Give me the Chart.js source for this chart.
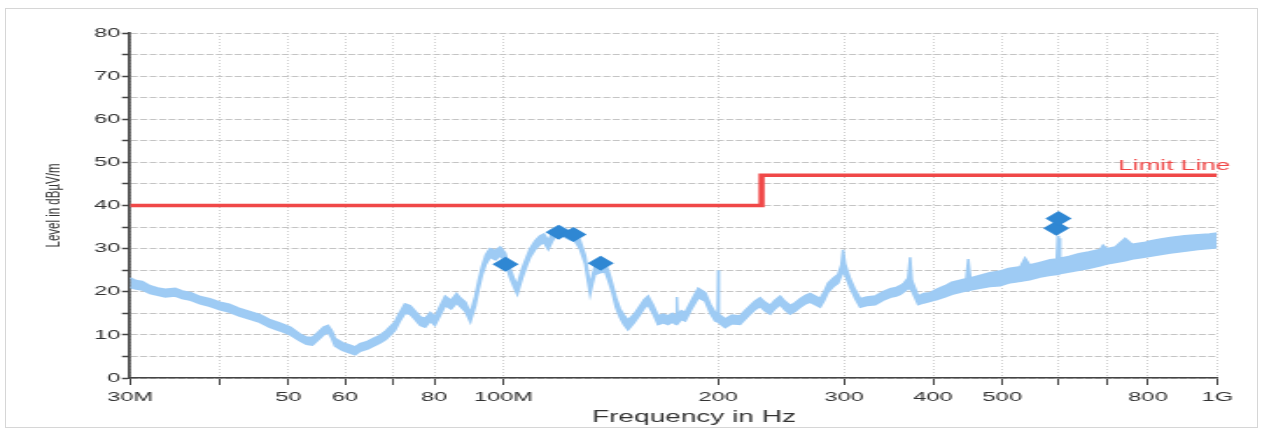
<!DOCTYPE html>
<html>
<head>
<meta charset="utf-8">
<script src="https://cdn.jsdelivr.net/npm/chart.js@4.4.1/dist/chart.umd.min.js"></script>
<style>
  body { margin: 0; background: #fff; }
  #frame { position: absolute; left: 5px; top: 8px; width: 1251px; height: 418px; border: 1px solid #d6d6d6; }
  #c { position: absolute; left: 0; top: 0; }
</style>
</head>
<body>
<div id="frame"></div>
<canvas id="c" width="721" height="429" style="width:1262px;height:429px"></canvas>
<script>
// Achsen
const xTickValues = [30, 40, 50, 60, 70, 80, 100, 200, 300, 400, 500, 600, 700, 800, 1000];
const xTickLabels = ['30M', '', '50', '60', '', '80', '100M', '200', '300', '400', '500', '', '', '800', '1G'];
const yMin = 0;
const yMax = 80;

// Messkurve (MHz, untere / obere Kante des Rauschbands in dBµV/m)
const traceFreq = [30.0, 30.6, 31.2, 32.0, 32.8, 33.6, 34.7, 35.5, 36.5, 37.6, 38.8, 40.1, 41.3, 42.6, 44.2, 45.6, 47.0, 48.7, 50.3, 51.9,
  53.0, 54.0, 55.0, 56.0, 56.8, 57.5, 58.1, 59.5, 61.0, 62.0, 63.0, 64.5, 66.0, 67.2, 68.5, 70.5, 71.5, 72.8, 74.0, 75.2,
  76.5, 77.7, 79.0, 80.2, 81.5, 82.9, 84.5, 86.0, 87.0, 88.5, 89.9, 91.3, 92.3, 93.4, 94.5, 95.8, 97.5, 99.0, 100.6, 102.2,
  103.5, 104.6, 105.5, 106.3, 107.8, 109.0, 110.8, 112.6, 114.0, 115.6, 117.0, 118.2, 120.0, 122.1, 124.0, 126.1, 128.0, 130.2, 131.2, 132.3,
  133.4, 134.4, 136.5, 138.9, 140.5, 142.0, 143.8, 145.7, 147.5, 149.5, 152.5, 155.5, 157.5, 159.5, 162.0, 164.7, 167.5, 170.1, 172.5, 174.6,
  175.0, 175.4, 177.5, 179.8, 183.5, 187.5, 191.8, 195.0, 198.0, 199.6, 200.0, 200.4, 204.5, 209.0, 214.6, 218.0, 221.7, 225.0, 228.9, 232.5,
  236.5, 240.0, 244.2, 248.0, 252.2, 256.0, 260.5, 265.0, 269.0, 273.5, 277.8, 281.5, 285.1, 290.0, 294.4, 297.5, 299.2, 301.0, 306.0, 311.0,
  316.2, 323.0, 331.8, 340.0, 348.3, 355.0, 359.7, 364.0, 369.0, 371.4, 373.5, 381.2, 388.0, 396.3, 405.0, 415.9, 425.0, 435.0, 445.0, 448.0,
  451.0, 465.0, 480.0, 496.6, 510.0, 530.0, 538.0, 546.0, 565.0, 583.6, 596.0, 598.0, 599.5, 600.8, 602.5, 620.0, 640.0, 660.0, 685.7, 692.0,
  700.0, 720.0, 743.0, 760.0, 790.0, 805.6, 830.0, 860.0, 900.0, 940.0, 975.0, 1000.0];
const traceLow = [21.0, 20.6, 20.4, 19.6, 19.2, 18.8, 19.0, 18.4, 18.0, 17.2, 16.6, 15.8, 15.3, 14.4, 13.6, 12.9, 11.8, 10.9, 10.0, 8.6,
  7.8, 7.6, 8.8, 10.0, 10.6, 9.2, 7.4, 6.4, 5.8, 5.4, 6.2, 6.7, 7.5, 8.1, 9.0, 11.0, 13.0, 15.0, 14.8, 13.6,
  12.2, 11.8, 13.2, 12.2, 14.4, 16.8, 16.0, 17.4, 16.6, 15.4, 13.0, 16.6, 20.4, 24.0, 26.4, 28.0, 27.4, 28.4, 27.0, 23.2,
  21.0, 19.4, 21.4, 23.2, 26.0, 28.0, 29.8, 31.0, 31.4, 29.8, 31.6, 32.8, 33.2, 32.6, 32.0, 31.6, 30.0, 26.4, 23.0, 19.4,
  22.0, 24.0, 24.4, 24.6, 22.4, 20.0, 16.4, 14.0, 12.4, 11.2, 12.8, 14.8, 16.2, 17.0, 15.0, 12.4, 12.8, 12.4, 13.0, 12.4,
  12.6, 12.6, 13.6, 13.2, 16.0, 18.6, 17.8, 15.0, 13.2, 13.0, 12.9, 12.8, 11.7, 12.6, 12.4, 13.6, 14.8, 15.8, 16.6, 15.6,
  14.8, 16.0, 17.0, 15.8, 14.8, 15.4, 16.4, 17.2, 17.6, 17.0, 16.4, 18.0, 20.0, 21.2, 22.0, 23.8, 24.5, 24.0, 21.0, 18.5,
  16.4, 16.8, 17.0, 18.0, 18.7, 19.0, 19.4, 20.0, 20.8, 20.6, 20.2, 17.0, 17.4, 17.8, 18.2, 18.8, 19.4, 19.8, 20.2, 20.2,
  20.4, 20.8, 21.2, 21.4, 22.0, 22.4, 22.6, 22.8, 23.4, 23.8, 24.0, 24.0, 24.2, 24.2, 24.2, 24.6, 25.0, 25.4, 26.0, 26.2,
  26.4, 26.8, 27.2, 27.6, 28.0, 28.2, 28.6, 29.0, 29.4, 29.8, 30.0, 30.2];
const traceHigh = [23.2, 22.6, 22.4, 21.4, 20.9, 20.6, 20.8, 20.2, 19.8, 18.9, 18.4, 17.6, 17.1, 16.2, 15.4, 14.7, 13.6, 12.7, 11.8, 10.2,
  9.5, 9.4, 10.6, 11.8, 12.2, 11.0, 9.2, 8.2, 7.6, 7.2, 8.0, 8.5, 9.3, 9.9, 11.0, 13.0, 15.0, 17.2, 16.8, 15.6,
  14.2, 13.8, 15.2, 14.2, 16.6, 19.0, 18.0, 19.6, 18.6, 17.6, 15.0, 18.8, 22.6, 26.0, 28.6, 30.0, 29.6, 30.4, 29.0, 25.4,
  23.0, 21.4, 23.6, 25.4, 28.0, 30.0, 31.8, 33.0, 33.4, 31.8, 33.6, 34.8, 35.2, 34.6, 34.0, 33.8, 32.0, 28.4, 25.0, 21.4,
  24.0, 26.0, 26.4, 26.8, 24.6, 22.0, 18.6, 16.0, 14.6, 13.4, 14.8, 16.8, 18.2, 19.0, 17.0, 14.4, 14.8, 14.4, 15.0, 14.4,
  18.8, 14.6, 15.6, 15.2, 18.0, 20.8, 19.8, 17.0, 15.2, 15.0, 25.0, 14.8, 13.7, 14.6, 14.4, 15.6, 16.8, 17.8, 18.6, 17.6,
  16.8, 18.0, 19.0, 17.8, 16.8, 17.4, 18.4, 19.2, 19.6, 19.0, 18.4, 20.0, 22.0, 23.2, 24.0, 26.2, 29.7, 26.6, 23.0, 20.5,
  18.4, 18.8, 19.0, 20.0, 20.7, 21.0, 21.4, 22.0, 23.2, 28.0, 22.6, 19.0, 19.6, 19.8, 20.6, 21.4, 22.2, 22.6, 23.0, 27.6,
  23.2, 23.8, 24.4, 24.8, 25.4, 25.8, 27.8, 26.2, 26.8, 27.4, 27.6, 33.0, 27.8, 32.4, 27.8, 28.2, 28.8, 29.2, 29.8, 30.8,
  30.0, 30.4, 32.4, 31.0, 31.4, 31.8, 32.2, 32.6, 33.0, 33.2, 33.4, 33.6];

// Grenzwert
const limitFreq = [30, 230, 230, 1000];
const limitLevel = [40, 40, 47, 47];
const limitLabel = 'Limit Line';

// Markierte Spitzenwerte
const peakFreq = [100.7, 119.5, 125.4, 136.9, 595, 599.4];
const peakLevel = [26.4, 33.8, 33.3, 26.6, 34.7, 37.0];

const fontFamily = "'Liberation Sans', Arial, sans-serif";
const traceColor = '#9ecbf4';
const limitColor = '#f04848';

// Achsentitel und Beschriftung der Grenzlinie
const labelsPlugin = {
    id: 'labels',
    afterDraw(chart) {
        const ctx = chart.ctx;
        const y = chart.scales.y;
        const area = chart.chartArea;
        ctx.save();
        ctx.fillStyle = limitColor;
        ctx.font = '15px ' + fontFamily;
        ctx.textAlign = 'right';
        ctx.textBaseline = 'middle';
        ctx.fillText(limitLabel, area.right + 7.5, y.getPixelForValue(limitLevel[3]) - 9);

        ctx.fillStyle = '#333';
        ctx.font = '16px ' + fontFamily;
        ctx.textAlign = 'center';
        ctx.fillText('Frequency in Hz', 396.5, 418);

        ctx.font = '11.5px ' + fontFamily;
        ctx.translate(31, (area.top + area.bottom) / 2);
        ctx.rotate(-Math.PI / 2);
        ctx.fillText('Level in dBµV/m', 0, 0);
        ctx.restore();
    }
};

const ctx = document.getElementById('c').getContext('2d');
const chart = new Chart(ctx, {
    type: 'line',
    data: {
        datasets: [{
            type: 'scatter',
            data: peakFreq.map((f, i) => ({x: f, y: peakLevel[i]})),
            pointStyle: 'rectRot',
            pointRadius: 7.5,
            backgroundColor: '#2f87d3',
            borderColor: '#2f87d3',
            borderWidth: 0
        }, {
            data: limitFreq.map((f, i) => ({x: f, y: limitLevel[i]})),
            borderColor: limitColor,
            borderWidth: 3.5,
            pointRadius: 0,
            fill: false
        }, {
            data: traceFreq.map((f, i) => ({x: f, y: traceHigh[i]})),
            borderColor: traceColor,
            backgroundColor: traceColor,
            borderWidth: 1.5,
            pointRadius: 0,
            fill: '+1'
        }, {
            data: traceFreq.map((f, i) => ({x: f, y: traceLow[i]})),
            borderColor: traceColor,
            borderWidth: 1.5,
            pointRadius: 0,
            fill: false
        }]
    },
    options: {
        responsive: false,
        devicePixelRatio: 1,
        animation: false,
        layout: {
            padding: {top: 33, right: 25.6, bottom: 0, left: 0}
        },
        elements: {
            line: {tension: 0}
        },
        plugins: {
            legend: {display: false},
            tooltip: {enabled: false}
        },
        scales: {
            x: {
                type: 'logarithmic',
                min: 30,
                max: 1000,
                afterBuildTicks: function(scale) {
                    scale.ticks = xTickValues.map(v => ({value: v}));
                },
                afterFit: function(scale) {
                    scale.height = 51;
                },
                ticks: {
                    autoSkip: false,
                    maxRotation: 0,
                    padding: 4,
                    color: '#333',
                    font: {family: fontFamily, size: 13.5},
                    callback: function(value, index) {
                        return xTickLabels[index];
                    }
                },
                grid: {
                    color: '#cfcfcf',
                    lineWidth: 1,
                    tickColor: '#444',
                    tickLength: 7,
                    tickWidth: 1
                },
                border: {
                    color: '#444',
                    width: 1.5,
                    dash: [1, 2]
                }
            },
            y: {
                min: yMin,
                max: yMax,
                afterFit: function(scale) {
                    scale.width = 74.3;
                },
                ticks: {
                    stepSize: 5,
                    padding: 1,
                    color: '#333',
                    font: {family: fontFamily, size: 13.5},
                    callback: function(value) {
                        return value % 10 === 0 ? String(value) : '';
                    }
                },
                grid: {
                    color: '#c4c4c4',
                    lineWidth: 1,
                    tickColor: '#444',
                    tickLength: 4.6,
                    tickWidth: 1.5
                },
                border: {
                    color: '#444',
                    width: 1.7,
                    dash: [4, 1.4]
                }
            }
        }
    },
    plugins: [labelsPlugin]
});
</script>
</body>
</html>
